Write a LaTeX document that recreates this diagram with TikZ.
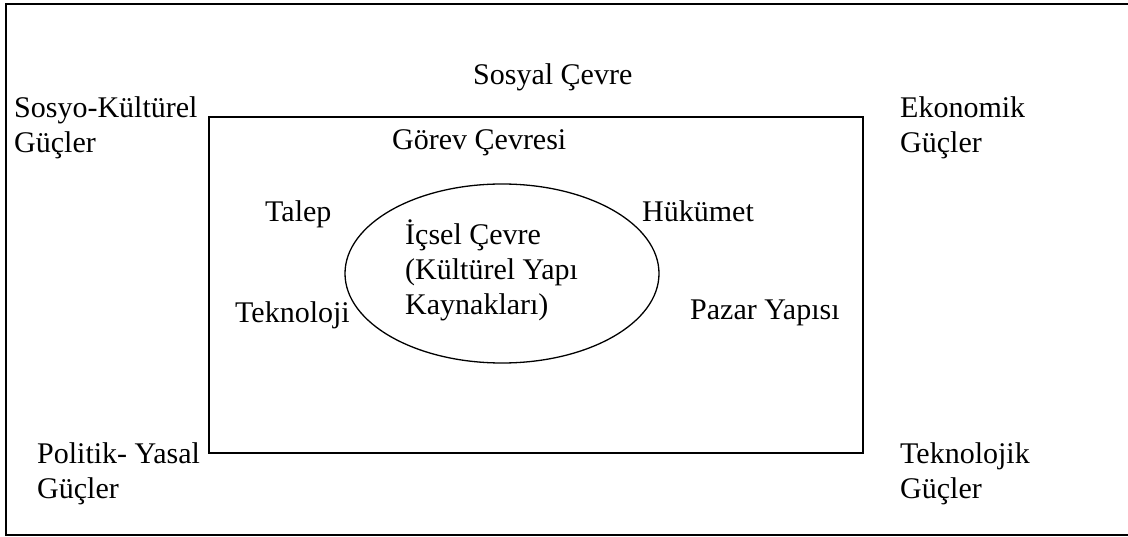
\documentclass[tikz,border=0pt]{standalone}
\usepackage{fontspec}
\setmainfont{Liberation Serif}
\usetikzlibrary{shapes.geometric}

\tikzset{
  label/.style={anchor=base west, inner sep=0pt, font=\fontsize{30}{35}\selectfont},
  frameline/.style={line width=1.8pt, black},
  boxline/.style={line width=1.3pt, black},
}

\begin{document}
\begin{tikzpicture}[x=1pt, y=-1pt]
  \useasboundingbox (0,0) rectangle (1128,537);

  % outer frame (general environment)
  \coordinate (ftr) at (1129,4);
  \coordinate (ftl) at (6,4);
  \coordinate (fbl) at (6,535);
  \coordinate (fbr) at (1129,535);
  \draw[frameline] (ftr) -- (ftl) -- (fbl) -- (fbr);

  % task environment box
  \node[boxline, draw, rectangle, inner sep=0pt, minimum width=654pt, minimum height=336pt]
    (task) at (536,285) {};

  % internal environment
  \node[boxline, draw, ellipse, inner sep=0pt, minimum width=314pt, minimum height=179pt]
    (inner) at (502,273.5) {};

  % general environment forces
  \node[label] (sosyal) at (473,85) {Sosyal Çevre};
  \node[label] (sk1) at (14,118) {Sosyo-Kültürel};
  \node[label] (sk2) at (14,153) {Güçler};
  \node[label] (ek1) at (900,118) {Ekonomik};
  \node[label] (ek2) at (900,153) {Güçler};
  \node[label] (py1) at (37,463) {Politik- Yasal};
  \node[label] (py2) at (37,498) {Güçler};
  \node[label] (tk1) at (900,463) {Teknolojik};
  \node[label] (tk2) at (900,498) {Güçler};

  % task environment
  \node[label] (gorev) at (392,150) {Görev Çevresi};
  \node[label] (talep) at (265,222) {Talep};
  \node[label] (tekno) at (235,323) {Teknoloji};
  \node[label] (hukumet) at (642,222) {Hükümet};
  \node[label] (pazar) at (690,320) {Pazar Yapısı};

  % internal environment text
  \node[label] (ic1) at (405,245) {İçsel Çevre};
  \node[label] (ic2) at (405,280) {(Kültürel Yapı};
  \node[label] (ic3) at (405,315) {Kaynakları)};
\end{tikzpicture}
\end{document}
